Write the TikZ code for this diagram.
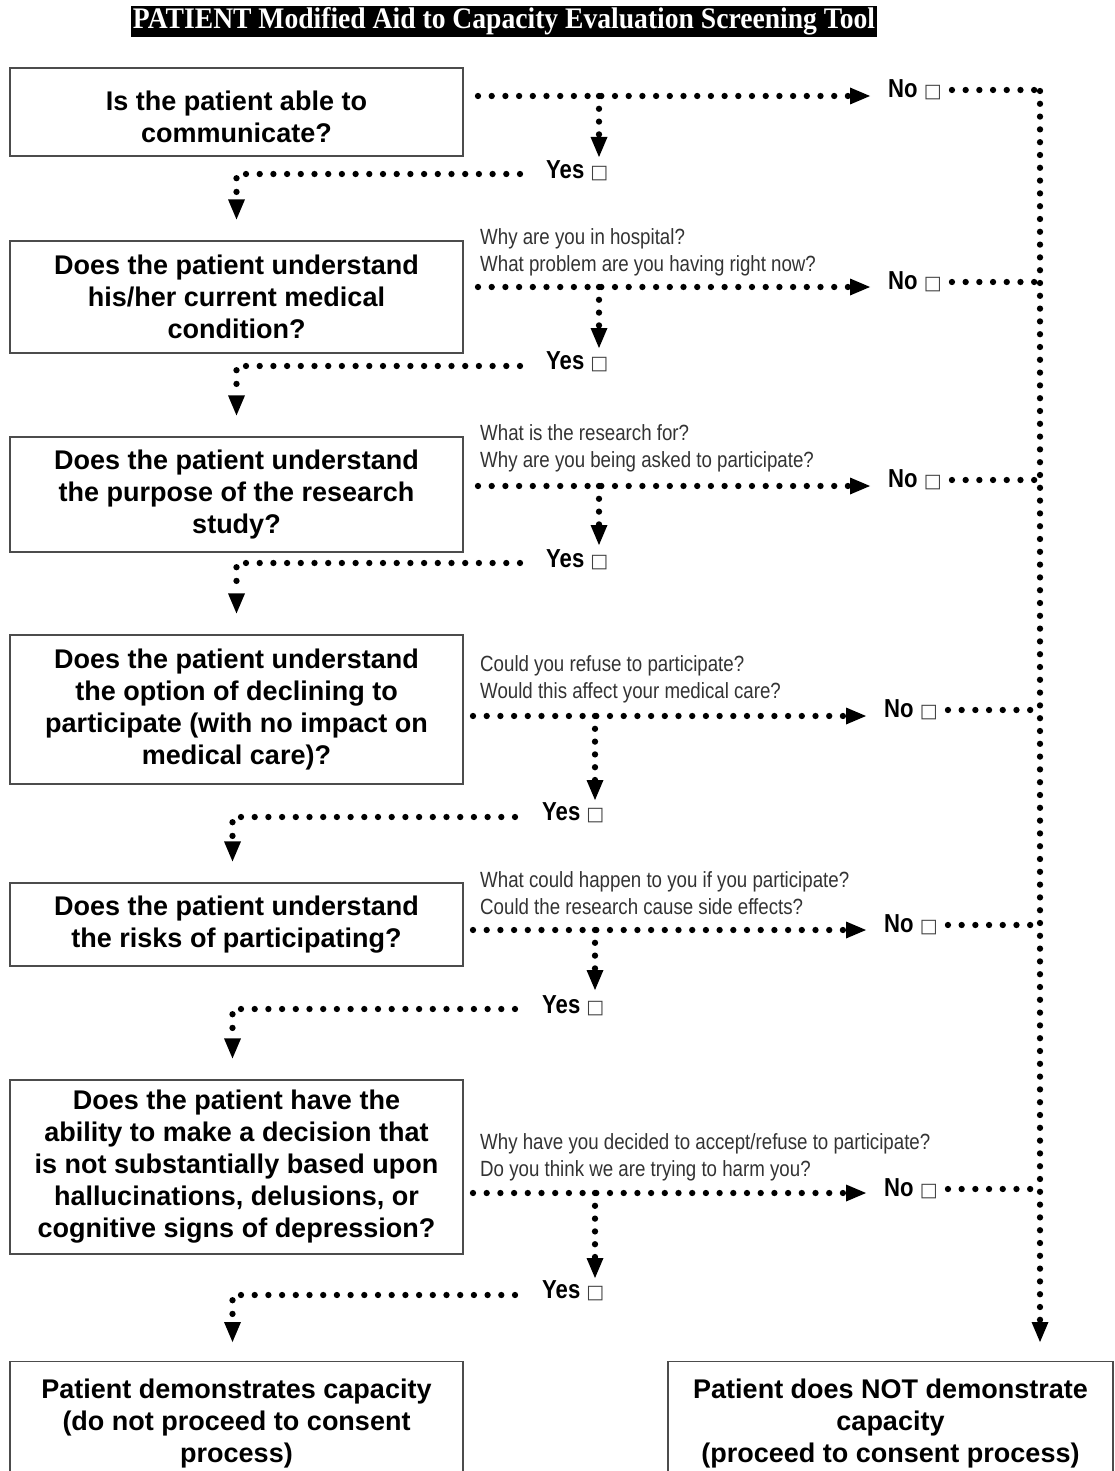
\documentclass[tikz,border=0pt]{standalone}
\usepackage{fontspec}
\usepackage{graphicx}
\usetikzlibrary{arrows.meta}
\setmainfont{Liberation Sans}
\newfontfamily\narrowfont{Liberation Sans}[FakeStretch=0.85]
\newfontfamily\titlefont{Liberation Serif}
\newfontfamily\symfont{DejaVu Sans}
\newcommand{\cbox}{{\normalfont\symfont\fontsize{19}{19}\selectfont\color{black!75}□}}
\tikzset{
 qbox/.style={draw=black!70, line width=1.2pt, minimum width=453pt, inner sep=0pt, align=center, font=\bfseries\fontsize{27}{32}\selectfont},
 btext/.style={inner sep=0pt, align=center, font=\bfseries\fontsize{27}{32}\selectfont},
 dotl/.style={line width=6.3pt, line cap=round, dash pattern=on 0pt off 13.7pt},
 dotv/.style={line width=6.3pt, line cap=round, dash pattern=on 0pt off 12.8pt},
 tip/.style={-{Triangle[length=20pt,width=17pt,line width=0pt]}},
 yn/.style={inner sep=0pt, anchor=west, font=\narrowfont\bfseries\fontsize{26}{28}\selectfont},
 qtext/.style={inner sep=0pt, anchor=north west, align=left, font=\narrowfont\fontsize{22}{27}\selectfont, text=black!80},
}
\begin{document}
\begin{tikzpicture}[x=1pt,y=-1pt]
\useasboundingbox[fill=white] (0,0) rectangle (1114,1471);
% title
\node[fill=black, text=white, minimum width=746pt, minimum height=31pt, inner sep=0pt] (title) at (504,21.5)
 {\resizebox{742pt}{21pt}{\titlefont\bfseries PATIENT Modified Aid to Capacity Evaluation Screening Tool}};
% boxes
\node[qbox, minimum height=88pt] (b1) at (236.5,112) {};
\node[btext] (b1t) at (236.5,117) {Is the patient able to\\communicate?};
\node[qbox, minimum height=112pt] (b2) at (236.5,297) {Does the patient understand\\his/her current medical\\condition?};
\node[qbox, minimum height=115pt] (b3) at (236.5,494.5) {Does the patient understand\\the purpose of the research\\study?};
\node[qbox, minimum height=149pt] (b4) at (236.5,709.5) {Does the patient understand\\the option of declining to\\participate (with no impact on\\medical care)?};
\node[qbox, minimum height=83pt] (b5) at (236.5,924.5) {Does the patient understand\\the risks of participating?};
\node[qbox, minimum height=174pt] (b6) at (236.5,1167) {Does the patient have the\\ability to make a decision that\\is not substantially based upon\\hallucinations, delusions, or\\cognitive signs of depression?};
\node[qbox, minimum height=124pt, anchor=north] (b7) at (236.5,1361) {Patient demonstrates capacity\\(do not proceed to consent\\process)};
\node[qbox, minimum width=445pt, minimum height=124pt, anchor=north] (b8) at (890.5,1361) {Patient does NOT demonstrate\\capacity\\(proceed to consent process)};
% questions
\node[qtext] (q2) at (480,228) {Why are you in hospital?\\What problem are you having right now?};
\node[qtext] (q3) at (480,424) {What is the research for?\\Why are you being asked to participate?};
\node[qtext] (q4) at (480,655) {Could you refuse to participate?\\Would this affect your medical care?};
\node[qtext] (q5) at (480,871) {What could happen to you if you participate?\\Could the research cause side effects?};
\node[qtext] (q6) at (480,1133) {Why have you decided to accept/refuse to participate?\\Do you think we are trying to harm you?};
% yes / no labels
\node[yn] (no1) at (888,90) {No \cbox};
\node[yn] (no2) at (888,282) {No \cbox};
\node[yn] (no3) at (888,480) {No \cbox};
\node[yn] (no4) at (884,710) {No \cbox};
\node[yn] (no5) at (884,925) {No \cbox};
\node[yn] (no6) at (884,1189) {No \cbox};
\node[yn] (yes1) at (546,171) {Yes \cbox};
\node[yn] (yes2) at (546,362) {Yes \cbox};
\node[yn] (yes3) at (546,560) {Yes \cbox};
\node[yn] (yes4) at (542,813) {Yes \cbox};
\node[yn] (yes5) at (542,1006) {Yes \cbox};
\node[yn] (yes6) at (542,1291) {Yes \cbox};
% junction coordinates
\coordinate (h1) at (478,96);  \coordinate (j1) at (599,96);  \coordinate (d1) at (599,157);
\coordinate (h2) at (478,287); \coordinate (j2) at (599,287); \coordinate (d2) at (599,348);
\coordinate (h3) at (478,486); \coordinate (j3) at (599,486); \coordinate (d3) at (599,545);
\coordinate (h4) at (473,716); \coordinate (j4) at (595,716); \coordinate (d4) at (595,800);
\coordinate (h5) at (473,930); \coordinate (j5) at (595,930); \coordinate (d5) at (595,990);
\coordinate (h6) at (473,1193); \coordinate (j6) at (595,1193); \coordinate (d6) at (595,1278);
\coordinate (y1) at (520,174); \coordinate (y2) at (520,366); \coordinate (y3) at (520,563);
\coordinate (y4) at (515,817); \coordinate (y5) at (515,1009); \coordinate (y6) at (515,1295);
\coordinate (rtop) at (1040,91);
% connectors
\foreach \i in {1,...,6} {
  \draw[dotl,tip,shorten >=18pt] (h\i) -- (no\i.west |- h\i);
  \draw[dotv,tip] (j\i) -- (d\i);
  \draw[dotl] ([xshift=10pt]no\i.east) -- (no\i.east -| rtop);
}
\draw[dotl,tip,shorten >=21pt] (y1) -| (b2.north);
\draw[dotl,tip,shorten >=21pt] (y2) -| (b3.north);
\draw[dotl,tip,shorten >=21pt] (y3) -| (b4.north);
\draw[dotl,tip,shorten >=21pt] (y4) -| ([xshift=-4pt]b5.north);
\draw[dotl,tip,shorten >=21pt] (y5) -| ([xshift=-4pt]b6.north);
\draw[dotl,tip,shorten >=19pt] (y6) -| ([xshift=-4pt]b7.north);
\draw[dotv,tip,shorten >=19pt] (rtop) -- (b8.north -| rtop);
\end{tikzpicture}
\end{document}
